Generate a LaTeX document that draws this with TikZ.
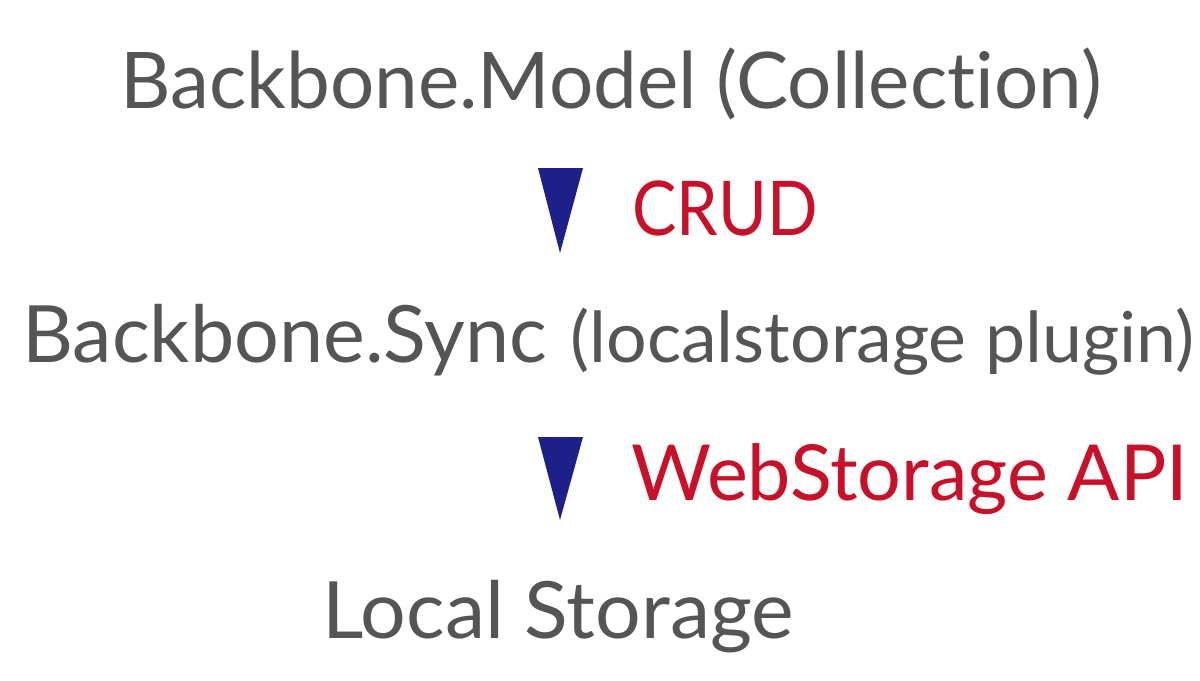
\documentclass[tikz,border=0pt]{standalone}
\usepackage{fontspec}
\setmainfont{Lato}[Ligatures=NoCommon]
\usetikzlibrary{positioning}
\definecolor{txtgrey}{RGB}{85,85,85}
\definecolor{apired}{RGB}{200,16,40}
\definecolor{arrblue}{RGB}{30,32,138}

\begin{document}
\begin{tikzpicture}[x=0.02cm,y=-0.02cm,
    layer/.style={text=txtgrey,font=\fontsize{44.5}{50}\selectfont,inner sep=0pt,anchor=base west},
    plugin/.style={text=txtgrey,font=\fontsize{40}{46}\selectfont,inner sep=0pt},
    call/.style={text=apired,font=\fontsize{44}{50}\selectfont,inner sep=0pt,anchor=base west},
    tri/.style={fill=arrblue}]
    \useasboundingbox[fill=white] (0,0) rectangle (1200,680);

    % layers
    \node[layer] (model) at (120,108) {Backbone.Model (Collection)};
    \node[layer, font=\fontsize{45}{50}\selectfont] (sync) at (22,362) {Backbone.Sync};
    \node[plugin, right=0.45cm of sync.base east, anchor=base west] (plugin) {\scalebox{1.02}[1]{(localstorage plugin)}};
    \node[layer, font=\fontsize{45}{50}\selectfont] (storage) at (322,638) {\scalebox{1.02}[1]{Local Storage}};

    % calls between layers
    \fill[tri] (538,168) -- (583,168) -- (560,253) -- cycle;
    \node[call, font=\fontsize{43}{50}\selectfont] (crud) at (632,235) {\scalebox{0.88}[1]{CRUD}};
    \fill[tri] (538,437) -- (583,437) -- (560,520) -- cycle;
    \node[call] (webapi) at (631,500) {WebStorage API};

\end{tikzpicture}
\end{document}
